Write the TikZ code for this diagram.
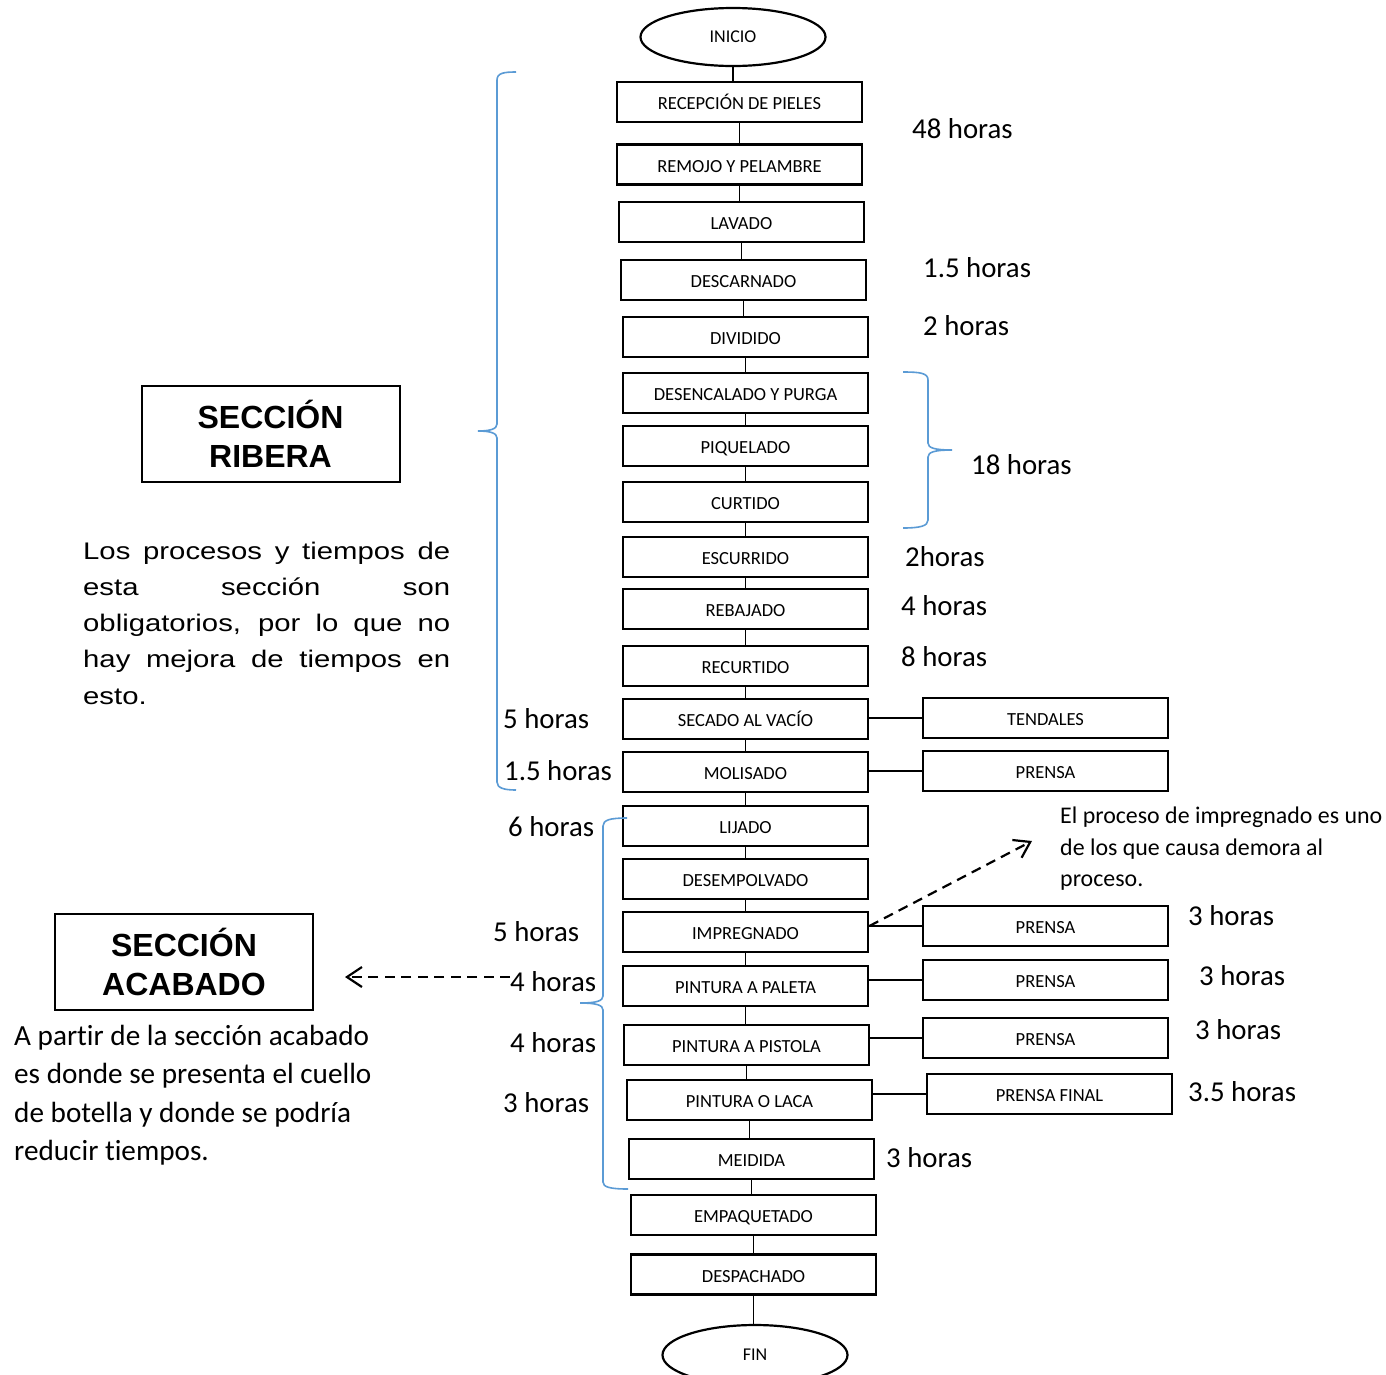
\documentclass[tikz,border=0pt]{standalone}
\usepackage{fontspec}
\setmainfont{Carlito}[Ligatures=NoCommon]
\newfontfamily\arialf{Liberation Sans}
\usetikzlibrary{shapes.geometric,arrows.meta}
\definecolor{braceblue}{RGB}{91,155,213}
\newcommand{\wideline}[1]{\scalebox{1.22}[1]{\makebox[300.8pt][s]{#1}}}
\begin{document}
\begin{tikzpicture}[x=1pt,y=-1pt,
  stepbox/.style={draw, line width=2.7pt, minimum width=245pt, minimum height=40pt, inner sep=0pt, text height=15pt, text depth=0pt, font=\fontsize{18.5}{20}\selectfont},
  term/.style={ellipse, draw, line width=2.2pt, minimum width=185pt, minimum height=58pt, inner sep=0pt, font=\fontsize{18}{20}\selectfont},
  conn/.style={line width=1.4pt},
  hrs/.style={anchor=west, inner sep=0pt, font=\fontsize{28.8}{30}\selectfont},
  brc/.style={draw=braceblue, line width=1.6pt},
  dsh/.style={line width=2.2pt, dash pattern=on 10pt off 6.5pt, -{Straight Barb[length=15pt,width=20pt]}},
  secbox/.style={draw, line width=2pt, minimum width=258pt, minimum height=96pt, inner sep=0pt, align=center, font=\arialf\bfseries\fontsize{32}{39}\selectfont},
  pline/.style={anchor=base west, inner sep=0pt}
]
\fill[white] (0,0) rectangle (1386,1374);
\useasboundingbox (0,0) rectangle (1386,1374);

% main column
\node[term] (n0) at (733,37) {INICIO};
\node[stepbox] (n1) at (739.5,102) {RECEPCIÓN DE PIELES};
\node[stepbox] (n2) at (739.5,164.5) {REMOJO Y PELAMBRE};
\node[stepbox] (n3) at (741.5,222) {LAVADO};
\node[stepbox] (n4) at (743.5,280) {DESCARNADO};
\node[stepbox] (n5) at (745.5,337) {DIVIDIDO};
\node[stepbox] (n6) at (745.5,393) {DESENCALADO Y PURGA};
\node[stepbox] (n7) at (745.5,446) {PIQUELADO};
\node[stepbox] (n8) at (745.5,502) {CURTIDO};
\node[stepbox] (n9) at (745.5,557) {ESCURRIDO};
\node[stepbox] (n10) at (745.5,609) {REBAJADO};
\node[stepbox] (n11) at (745.5,666) {RECURTIDO};
\node[stepbox] (n12) at (745.5,719) {SECADO AL VACÍO};
\node[stepbox] (n13) at (745.5,772) {MOLISADO};
\node[stepbox] (n14) at (745.5,826) {LIJADO};
\node[stepbox] (n15) at (745.5,879) {DESEMPOLVADO};
\node[stepbox] (n16) at (745.5,932) {IMPREGNADO};
\node[stepbox] (n17) at (745.5,986) {PINTURA A PALETA};
\node[stepbox] (n18) at (746.5,1045) {PINTURA A PISTOLA};
\node[stepbox] (n19) at (749.5,1100) {PINTURA O LACA};
\node[stepbox] (n20) at (751.5,1159) {MEIDIDA};
\node[stepbox] (n21) at (753.5,1215) {EMPAQUETADO};
\node[stepbox] (n22) at (753.5,1274.5) {DESPACHADO};
\node[term, minimum height=60pt] (n23) at (755,1355) {FIN};

\foreach \i [evaluate=\i as \j using int(\i+1)] in {0,...,22}
  \draw[conn] (n\i.south) -- (n\i.south |- n\j.north);

% right column
\node[stepbox] (r1) at (1045.5,718) {TENDALES};
\node[stepbox] (r2) at (1045.5,771) {PRENSA};
\node[stepbox] (r3) at (1045.5,926) {PRENSA};
\node[stepbox] (r4) at (1045.5,980) {PRENSA};
\node[stepbox] (r5) at (1045.5,1038) {PRENSA};
\node[stepbox] (r6) at (1049.5,1094) {PRENSA FINAL};
\draw[conn] (n12.east |- r1.west) -- (r1.west);
\draw[conn] (n13.east |- r2.west) -- (r2.west);
\draw[conn] (n16.east |- r3.west) -- (r3.west);
\draw[conn] (n17.east |- r4.west) -- (r4.west);
\draw[conn] (n18.east |- r5.west) -- (r5.west);
\draw[conn] (n19.east |- r6.west) -- (r6.west);

% hours
\node[hrs] (h1) at (912,129) {48 horas};
\node[hrs] (h2) at (923,268) {1.5 horas};
\node[hrs] (h3) at (923,326) {2 horas};
\node[hrs] (h4) at (971,465) {18 horas};
\node[hrs] (h5) at (905,557) {2horas};
\node[hrs] (h6) at (901,606) {4 horas};
\node[hrs] (h7) at (901,657) {8 horas};
\node[hrs] (h8) at (503,719) {5 horas};
\node[hrs] (h9) at (504,771) {1.5 horas};
\node[hrs] (h10) at (508,827) {6 horas};
\node[hrs] (h11) at (493,932) {5 horas};
\node[hrs] (h12) at (510,982) {4 horas};
\node[hrs] (h13) at (510,1043) {4 horas};
\node[hrs] (h14) at (503,1103) {3 horas};
\node[hrs] (h15) at (1188,916) {3 horas};
\node[hrs] (h16) at (1199,976) {3 horas};
\node[hrs] (h17) at (1195,1030) {3 horas};
\node[hrs] (h18) at (1188,1092) {3.5 horas};
\node[hrs] (h19) at (886,1158) {3 horas};

% braces
\draw[brc] (516,72) .. controls (504,72) and (497,73) .. (497,80) -- (497,424)
  .. controls (497,429) and (490,431) .. (478,431)
  .. controls (490,431) and (497,433) .. (497,438) -- (497,782)
  .. controls (497,788) and (504,790) .. (516,790);
\draw[brc] (903,372) .. controls (920,372) and (928,373) .. (928,380) -- (928,443)
  .. controls (928,448) and (935,450) .. (952,450)
  .. controls (935,450) and (928,452) .. (928,457) -- (928,520)
  .. controls (928,526) and (920,528) .. (903,528);
\draw[brc] (627,818) .. controls (610,818) and (603,820) .. (603,826) -- (603,996)
  .. controls (603,1001) and (596,1003) .. (580,1003)
  .. controls (596,1003) and (603,1005) .. (603,1010) -- (603,1182)
  .. controls (603,1187) and (610,1189) .. (628,1189);

% section boxes
\node[secbox] (sr) at (270.5,434) {SECCIÓN\\RIBERA};
\node[secbox] (sa) at (184,961.5) {SECCIÓN\\ACABADO};

% paragraphs
\begin{scope}[every node/.style={pline, font=\arialf\fontsize{24}{36}\selectfont}]
\node (p1) at (83,559.3) {\wideline{Los procesos y tiempos de}};
\node (p2) at (83,595.5) {\wideline{esta sección son}};
\node (p3) at (83,631.7) {\wideline{obligatorios, por lo que no}};
\node (p4) at (83,667.9) {\wideline{hay mejora de tiempos en}};
\node (p5) at (83,704.1) {\scalebox{1.22}[1]{esto.}};
\end{scope}
\begin{scope}[every node/.style={pline, font=\fontsize{29.2}{30}\selectfont}]
\node (q1) at (14,1045) {A partir de la sección acabado};
\node (q2) at (14,1083.5) {es donde se presenta el cuello};
\node (q3) at (14,1122) {de botella y donde se podría};
\node (q4) at (14,1160.5) {reducir tiempos.};
\end{scope}
\begin{scope}[every node/.style={pline, font=\fontsize{23.9}{25}\selectfont}]
\node (e1) at (1060,823.3) {El proceso de impregnado es uno};
\node (e2) at (1060,855) {de los que causa demora al};
\node (e3) at (1060,886.5) {proceso.};
\end{scope}

% dashed arrows
\coordinate (a1) at (1032,841);
\draw[dsh] (n16.east |- r3.west) -- (a1);
\coordinate (a2) at (345,977);
\draw[dsh] ([yshift=5pt]h12.west) -- (a2);
\end{tikzpicture}
\end{document}
